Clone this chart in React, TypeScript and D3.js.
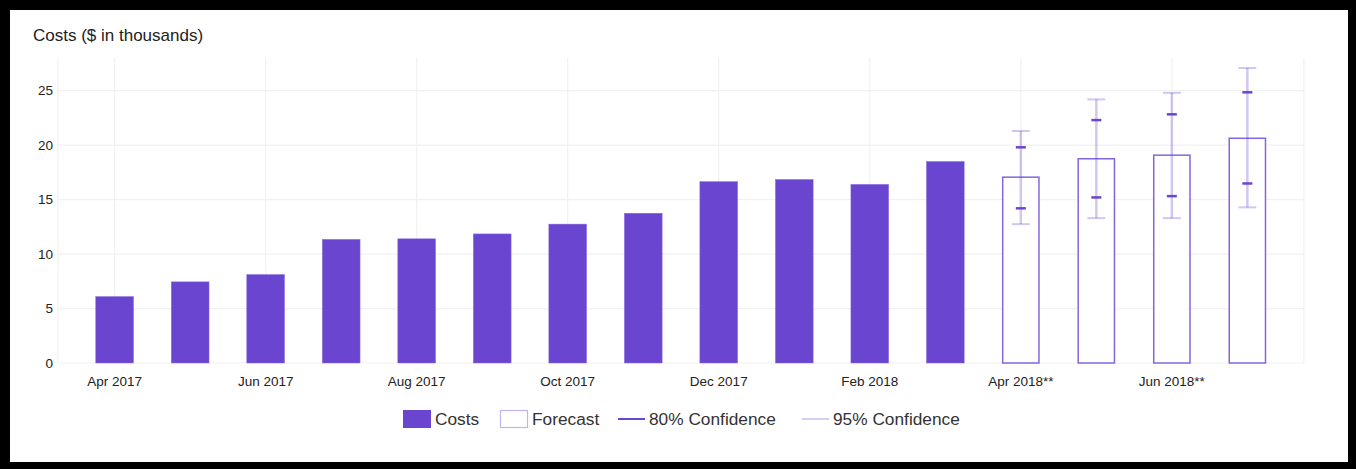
import React from "react";
import * as d3 from "d3";

const months = ["Apr 2017","May 2017","Jun 2017","Jul 2017","Aug 2017","Sep 2017","Oct 2017","Nov 2017","Dec 2017","Jan 2018","Feb 2018","Mar 2018","Apr 2018","May 2018","Jun 2018","Jul 2018"];
const costs = [6.1, 7.45, 8.12, 11.35, 11.4, 11.85, 12.75, 13.75, 16.65, 16.85, 16.4, 18.5];
const forecastMonths = ["Apr 2018","May 2018","Jun 2018","Jul 2018"];
const forecast = [17.06, 18.75, 19.08, 20.63];
const ci80Low = [14.2, 15.2, 15.32, 16.48];
const ci80High = [19.8, 22.3, 22.83, 24.85];
const ci95Low = [12.75, 13.3, 13.3, 14.29];
const ci95High = [21.3, 24.2, 24.8, 27.08];
const yTicks = [0, 5, 10, 15, 20, 25];
const xTickMonths = ["Apr 2017","Jun 2017","Aug 2017","Oct 2017","Dec 2017","Feb 2018","Apr 2018","Jun 2018"];
const forecastLabelSet = ["Apr 2018","Jun 2018"];

const W = 1356, H = 469;
const left = 58, right = 1304, top = 58, bottom = 363;
const PURPLE = "#6a45cf";
const FONT = "'Liberation Sans', Arial, Helvetica, sans-serif";

export default function App() {
  const x = d3.scalePoint<string>().domain(months).range([left, right]).padding(0.75);
  const y = d3.scaleLinear().domain([0, 28]).range([bottom, top]);
  const bw = x.step() * 0.5;
  return (
    <svg width={W} height={H} style={{ position: "absolute", left: 0, top: 0 }} fontFamily={FONT}>
      <rect x={0} y={0} width={W} height={H} fill="#000" />
      <rect x={10} y={10} width={1338} height={452} fill="#fff" />
      <text x={33} y={41} fontSize={17} fill="#222">Costs ($ in thousands)</text>
      {/* grid */}
      {yTicks.map((t) => (
        <line key={"h" + t} x1={left} x2={right} y1={y(t)} y2={y(t)} stroke="#f1f1f1" strokeWidth={1.2} />
      ))}
      {[left, ...xTickMonths.map((m) => x(m)!), right].map((gx, i) => (
        <line key={"v" + i} x1={gx} x2={gx} y1={top} y2={bottom} stroke="#f1f1f1" strokeWidth={1.2} />
      ))}
      {yTicks.map((t) => (
        <text key={"yt" + t} x={53} y={y(t)} dy="0.35em" textAnchor="end" fontSize={13.5} fill="#222">{t}</text>
      ))}
      {xTickMonths.map((m) => (
        <text key={"xt" + m} x={x(m)!} y={386} textAnchor="middle" fontSize={13.5} fill="#222">
          {m + (forecastLabelSet.includes(m) ? "**" : "")}
        </text>
      ))}
      {/* cost bars */}
      {costs.map((v, i) => (
        <rect key={"c" + i} x={x(months[i])! - bw / 2} y={y(v)} width={bw} height={y(0) - y(v)} fill={PURPLE} stroke="#8b70e0" strokeWidth={0.5} />
      ))}
      {/* forecast bars */}
      {forecast.map((v, i) => (
        <rect key={"f" + i} x={x(forecastMonths[i])! - bw / 2 + 0.75} y={y(v)} width={bw - 1.5} height={y(0) - y(v)} fill="#fff" stroke="#8466dc" strokeWidth={1.5} />
      ))}
      {/* 95% */}
      {forecast.map((_, i) => {
        const cx = x(forecastMonths[i])!;
        return (
          <g key={"e95" + i} stroke={PURPLE} strokeOpacity={0.3} strokeWidth={2}>
            <line x1={cx} x2={cx} y1={y(ci95High[i])} y2={y(ci95Low[i])} strokeWidth={2.5} />
            <line x1={cx - 9} x2={cx + 9} y1={y(ci95High[i])} y2={y(ci95High[i])} />
            <line x1={cx - 9} x2={cx + 9} y1={y(ci95Low[i])} y2={y(ci95Low[i])} />
          </g>
        );
      })}
      {/* 80% */}
      {forecast.map((_, i) => {
        const cx = x(forecastMonths[i])!;
        return (
          <g key={"e80" + i} stroke={PURPLE} strokeWidth={2.5}>
            <line x1={cx - 5} x2={cx + 5} y1={y(ci80High[i])} y2={y(ci80High[i])} />
            <line x1={cx - 5} x2={cx + 5} y1={y(ci80Low[i])} y2={y(ci80Low[i])} />
          </g>
        );
      })}
      {/* legend */}
      <g fontSize={17.3} fill="#333">
        <rect x={403} y={410} width={28} height={18} fill={PURPLE} />
        <text x={435} y={425}>Costs</text>
        <rect x={500.5} y={410.5} width={27} height={17} fill="#fff" stroke="#c3b3f0" strokeWidth={1.2} />
        <text x={532} y={425}>Forecast</text>
        <line x1={618} x2={645} y1={419} y2={419} stroke={PURPLE} strokeWidth={2} />
        <text x={649} y={425}>80% Confidence</text>
        <line x1={802} x2={829} y1={419} y2={419} stroke="#c9bcf0" strokeWidth={1.5} />
        <text x={833} y={425}>95% Confidence</text>
      </g>
    </svg>
  );
}
